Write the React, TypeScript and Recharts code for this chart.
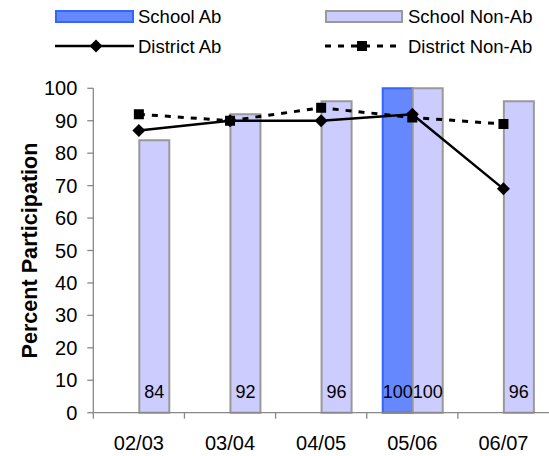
import React from 'react';
import { ComposedChart, Bar, Line, XAxis, YAxis, Legend, LabelList, Label } from 'recharts';

const years = ['02/03', '03/04', '04/05', '05/06', '06/07'];
const schoolAb: (number | null)[] = [null, null, null, 100, null];
const schoolNonAb = [84, 92, 96, 100, 96];
const districtAb = [87, 90, 90, 92, 69];
const districtNonAb = [92, 90, 94, 91, 89];
const yTicks = [0, 10, 20, 30, 40, 50, 60, 70, 80, 90, 100];
const seriesNames = ['School Ab', 'School Non-Ab', 'District Ab', 'District Non-Ab'];
const yTitle = 'Percent Participation';

const data = years.map((year, i) => ({
  year,
  schoolAb: schoolAb[i],
  schoolNonAb: schoolNonAb[i],
  districtAb: districtAb[i],
  districtNonAb: districtNonAb[i],
}));

const FONT = '"Liberation Sans", Arial, sans-serif';
const AB_FILL = '#6688ff';
const AB_STROKE = '#3366ff';
const NAB_FILL = '#ccccff';
const NAB_STROKE = '#999999';
const AXIS = '#888888';

const XTick = (props: any) => {
  const { x, y, payload, width, visibleTicksCount } = props;
  const band = typeof width === 'number' && visibleTicksCount ? width / visibleTicksCount : 91.2;
  const half = band / 2;
  return (
    <g>
      <line x1={x - half} x2={x - half} y1={y} y2={y + 6} stroke={AXIS} strokeWidth={1.3} />
      <text x={x} y={y + 37.3} textAnchor="middle" fontSize={20} fill="#000" fontFamily={FONT}>
        {payload.value}
      </text>
    </g>
  );
};

const BarValue = (props: any) => {
  const { x, y, width, height, value } = props;
  if (value === null || value === undefined) return null;
  return (
    <text x={x + width / 2} y={y + height - 15} textAnchor="middle" fontSize={18} fill="#000" fontFamily={FONT}>
      {value}
    </text>
  );
};

const Diamond = (props: any) => {
  const { cx, cy, index } = props;
  if (cx == null || cy == null) return <g key={`d${index}`} />;
  const r = 6.5;
  return <path key={`d${index}`} d={`M${cx},${cy - r} L${cx + r},${cy} L${cx},${cy + r} L${cx - r},${cy} Z`} fill="#000" />;
};

const Square = (props: any) => {
  const { cx, cy, index } = props;
  if (cx == null || cy == null) return <g key={`s${index}`} />;
  return <rect key={`s${index}`} x={cx - 5} y={cy - 5} width={10} height={10} fill="#000" />;
};

const LegendContent = () => (
  <svg width={549} height={60} style={{ display: 'block' }}>
    <g fontFamily={FONT} fontSize={18.5} fill="#000">
      <rect x={56} y={11} width={77} height={11} fill={AB_FILL} stroke={AB_STROKE} strokeWidth={2} />
      <text x={138} y={23.3}>{seriesNames[0]}</text>
      <rect x={326} y={11} width={76} height={11} fill={NAB_FILL} stroke={NAB_STROKE} strokeWidth={2} />
      <text x={408} y={23.3}>{seriesNames[1]}</text>
      <line x1={55} x2={134} y1={46} y2={46} stroke="#000" strokeWidth={2.5} />
      <path d="M96,39.5 L102.5,46 L96,52.5 L89.5,46 Z" fill="#000" />
      <text x={138} y={53.3}>{seriesNames[2]}</text>
      <line x1={325} x2={403} y1={46} y2={46} stroke="#000" strokeWidth={3} strokeDasharray="6 7" />
      <rect x={357} y={41} width={10} height={10} fill="#000" />
      <text x={408} y={53.3}>{seriesNames[3]}</text>
    </g>
  </svg>
);

const YTitle = (props: any) => {
  const vb = props.viewBox || {};
  const cy = (vb.y ?? 88) + (vb.height ?? 325) / 2;
  const cx = 37;
  return (
    <text
      x={cx}
      y={cy}
      textAnchor="middle"
      transform={`rotate(-90, ${cx}, ${cy})`}
      fontSize={21.6}
      fontWeight="bold"
      fill="#000"
      fontFamily={FONT}
    >
      {yTitle}
    </text>
  );
};

export default function App() {
  return (
    <div style={{ position: 'absolute', left: 0, top: 0, width: 549, height: 456, background: '#fff', fontFamily: FONT }}>
      <ComposedChart
        width={549}
        height={456}
        data={data}
        margin={{ top: 88.3, right: 0, bottom: 0, left: 0 }}
        barGap={0}
      >
        <XAxis
          dataKey="year"
          height={43.3}
          tickSize={0}
          tickMargin={0}
          tickLine={false}
          axisLine={{ stroke: AXIS, strokeWidth: 1.3 }}
          tick={<XTick />}
          interval={0}
        />
        <YAxis
          width={93.3}
          domain={[0, 100]}
          ticks={yTicks}
          interval={0}
          tickSize={6}
          tickMargin={10}
          axisLine={{ stroke: AXIS, strokeWidth: 1.3 }}
          tickLine={{ stroke: AXIS, strokeWidth: 1.3 }}
          tick={{ fontSize: 20, fill: '#000', fontFamily: FONT }}
        >
          <Label content={<YTitle />} />
        </YAxis>
        <Legend
          layout="vertical"
          align="center"
          verticalAlign="middle"
          wrapperStyle={{ top: 0, left: 0, width: 549, height: 60 }}
          content={<LegendContent />}
        />
        <Bar dataKey="schoolAb" name={seriesNames[0]} barSize={30} fill={AB_FILL} stroke={AB_STROKE} strokeWidth={2} isAnimationActive={false}>
          <LabelList dataKey="schoolAb" content={<BarValue />} />
        </Bar>
        <Bar dataKey="schoolNonAb" name={seriesNames[1]} barSize={30} fill={NAB_FILL} stroke={NAB_STROKE} strokeWidth={2} isAnimationActive={false}>
          <LabelList dataKey="schoolNonAb" content={<BarValue />} />
        </Bar>
        <Line
          dataKey="districtAb"
          name={seriesNames[2]}
          stroke="#000"
          strokeWidth={2.5}
          dot={Diamond}
          activeDot={false}
          isAnimationActive={false}
        />
        <Line
          dataKey="districtNonAb"
          name={seriesNames[3]}
          stroke="#000"
          strokeWidth={3}
          strokeDasharray="6 7"
          dot={Square}
          activeDot={false}
          isAnimationActive={false}
        />
      </ComposedChart>
    </div>
  );
}
